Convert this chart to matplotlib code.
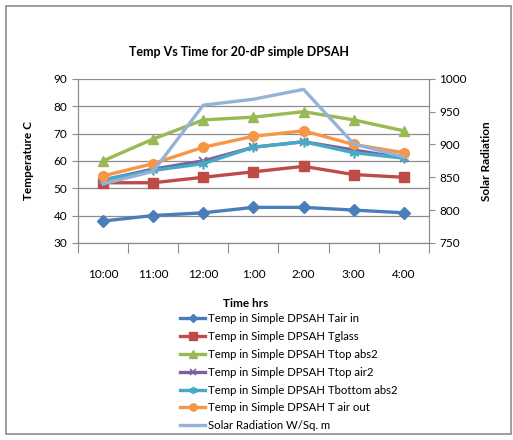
import matplotlib
matplotlib.use("Agg")
import matplotlib.pyplot as plt
from matplotlib.patches import Rectangle

plt.rcParams['font.family'] = ['Lato', 'DejaVu Sans']

# data
times = ['10:00', '11:00', '12:00', '1:00', '2:00', '3:00', '4:00']
t_air_in = [38, 40, 41, 43, 43, 42, 41]
t_glass = [52, 52, 54, 56, 58, 55, 54]
t_top_abs2 = [60, 68, 75, 76, 78, 75, 71]
t_top_air2 = [53, 57, 60, 65, 67, 64, 61]
t_bottom_abs2 = [53, 56.5, 59, 65, 67, 63, 61]
t_air_out = [54.5, 59, 65, 69, 71, 66, 63]
solar = [840, 859, 960, 969, 984, 901, 881]

labels = ['Temp in Simple DPSAH Tair in', 'Temp in Simple DPSAH Tglass',
          'Temp in Simple DPSAH Ttop abs2', 'Temp in Simple DPSAH Ttop air2',
          'Temp in Simple DPSAH Tbottom abs2', 'Temp in Simple DPSAH T air out',
          'Solar Radiation W/Sq. m']

fig = plt.figure(figsize=(5.13, 4.4), dpi=100)
fig.patches.append(Rectangle((6 / 513, 6 / 440), 505 / 513, 428 / 440, transform=fig.transFigure,
                             fill=False, edgecolor='#8c8c8c', linewidth=1.2))

ax = fig.add_axes([0.152, 0.448, 0.684, 0.3727])
ax2 = ax.twinx()
x = range(len(times))

h = []
h += ax.plot(x, t_air_in, color='#4A7EBB', lw=2.4, marker='D', ms=6)
h += ax.plot(x, t_glass, color='#BE4B48', lw=2.4, marker='s', ms=7)
h += ax.plot(x, t_top_abs2, color='#98B954', lw=2.4, marker='^', ms=7)
h += ax.plot(x, t_top_air2, color='#7D60A0', lw=2.4, marker='x', ms=6, mew=1.2)
h += ax.plot(x, t_bottom_abs2, color='#46AAC5', lw=2.4, marker=(6, 2, 0), ms=7, mew=1.2)
h += ax.plot(x, t_air_out, color='#F79646', lw=2.4, marker='o', ms=7)
h += ax2.plot(x, solar, color='#95B3D7', lw=2.4)

ax.set_xlim(-0.5, 6.5)
ax.set_ylim(30, 90)
ax.set_yticks(range(30, 91, 10))
ax.grid(axis='y', color='#8c8c8c', lw=0.9)
ax.set_xticks([i - 0.5 for i in range(8)])
ax.set_xticklabels([])
ax.set_xticks(list(x), minor=True)
ax.set_xticklabels(times, minor=True)
ax.tick_params(axis='x', which='major', length=7, color='#8c8c8c')
ax.tick_params(axis='x', which='minor', length=0, pad=19, labelsize=8.5)
ax.tick_params(axis='y', length=4, color='#8c8c8c', labelsize=8.5)
ax2.set_ylim(750, 1000)
ax2.set_yticks(range(750, 1001, 50))
ax2.tick_params(axis='y', length=4, color='#8c8c8c', labelsize=8.5)
for a in (ax, ax2):
    a.spines['top'].set_visible(False)
    for s in ('left', 'right', 'bottom'):
        a.spines[s].set_color('#8c8c8c')

ax.set_ylabel('Temperature C', fontsize=8.5, fontweight='bold', labelpad=14)
ax2.set_ylabel('Solar Radiation', fontsize=8.5, fontweight='bold', labelpad=10)
fig.text(0.465, 0.882, 'Temp Vs Time for 20-dP simple DPSAH', ha='center', va='center',
         fontsize=9, fontweight='bold')
fig.text(0.478, 0.311, 'Time hrs', ha='center', va='center', fontsize=8.5, fontweight='bold')

fig.legend(h, labels, loc='upper left', bbox_to_anchor=(0.351, 0.288), frameon=False,
           fontsize=8.2, handlelength=2.2, handletextpad=0.25, labelspacing=0.6,
           markerscale=0.75, borderpad=0, borderaxespad=0)

fig.savefig('out.png', dpi=100)
